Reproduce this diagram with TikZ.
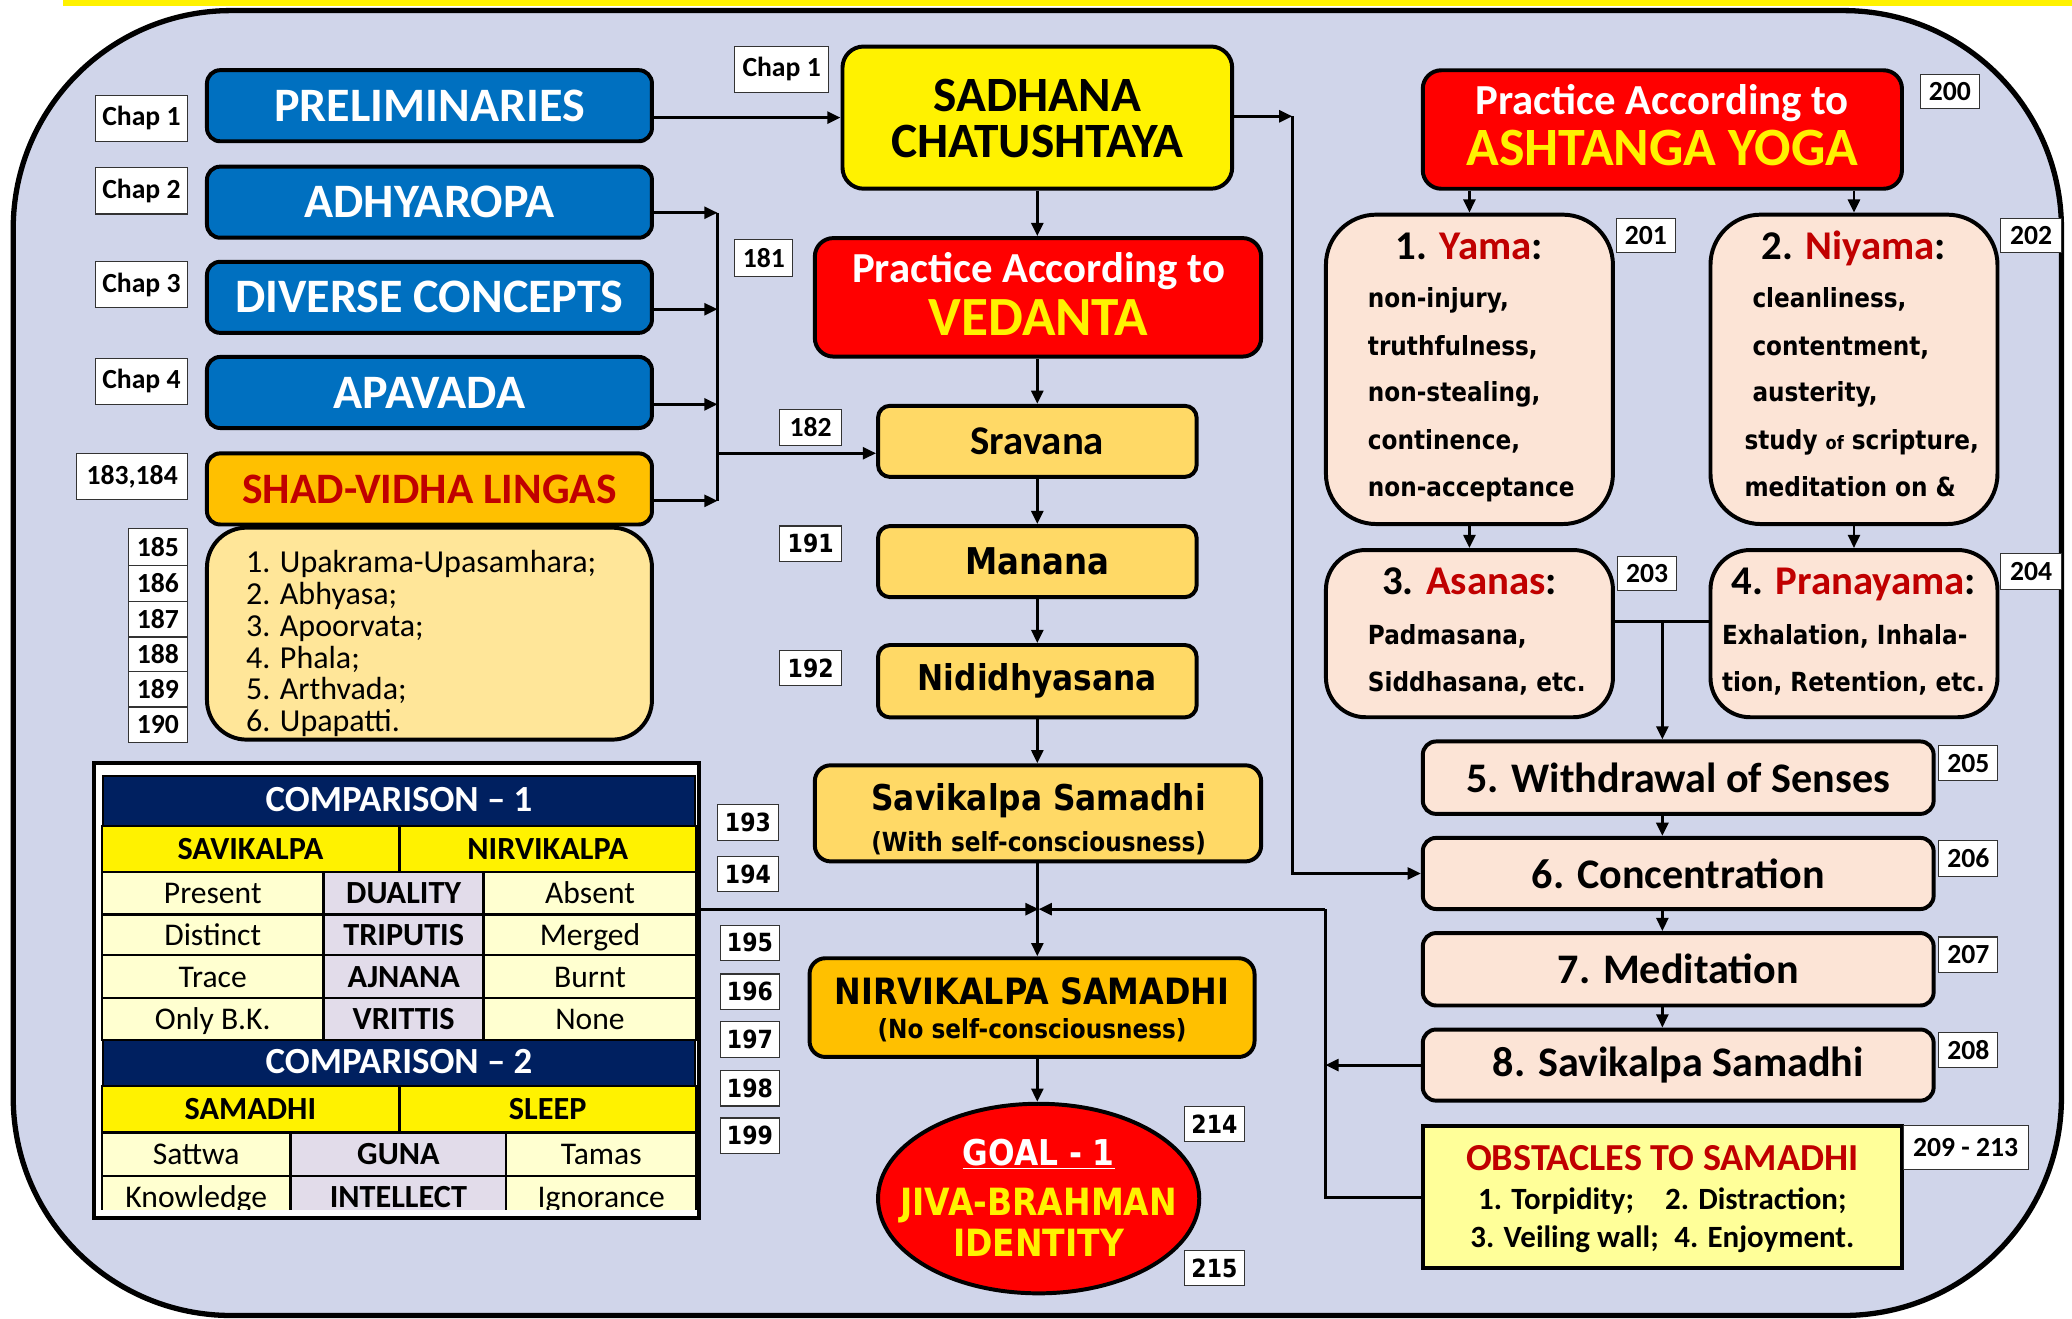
\documentclass[tikz,border=0pt]{standalone}
\usepackage{fontspec}
\setmainfont{Carlito}
\newfontfamily\verd{DejaVu Sans}
\newfontfamily\tah[FakeStretch=0.88]{DejaVu Sans}
\usetikzlibrary{arrows.meta,shapes.geometric,calc}
\definecolor{bg}{RGB}{208,213,234}
\definecolor{blu}{RGB}{0,112,192}
\definecolor{org}{RGB}{255,192,0}
\definecolor{dred}{RGB}{192,0,0}
\definecolor{lorg}{RGB}{255,217,102}
\definecolor{lyel}{RGB}{255,230,153}
\definecolor{peach}{RGB}{252,228,214}
\definecolor{obsy}{RGB}{255,255,153}
\definecolor{navy}{RGB}{0,32,96}
\definecolor{cellY}{RGB}{255,255,208}
\definecolor{cellM}{RGB}{226,220,234}
\newcommand\fs[1]{\fontsize{#1}{#1}\selectfont}
\tikzset{
 box/.style={draw=black, line width=3bp, inner sep=0pt, align=center},
 lab/.style={draw=black!80, line width=0.8bp, fill=white, inner sep=0pt, font=\bfseries\fs{21}},
 vlab/.style={draw=black!80, line width=0.8bp, fill=white, inner sep=0pt, font=\tah\bfseries\fs{19}},
 arr/.style={line width=2.2bp, -{Triangle[length=10bp,width=9bp]}},
 ln/.style={line width=2.2bp},
 txt/.style={anchor=base, inner sep=0pt},
 lst/.style={anchor=base west, inner sep=0pt, font=\tah\bfseries\fs{20}},
}
\newcommand\bx[7]{\node[#1,minimum width={#5-#3},minimum height={#6-#4}] (#2) at ({(#3+#5)/2},{(#4+#6)/2}) {#7};}
\newcommand\cell[8]{%
 \node[draw=black,line width=1.5bp,fill=#6,inner sep=0pt,minimum width={#4-#2},minimum height={#5-#3}] (#1) at ({(#2+#4)/2},{(#3+#5)/2}) {};
 \node[anchor=base,inner sep=0pt,#7] (#1t) at ({(#2+#4)/2},{(#3+#5)/2+8}) {#8};}
\begin{document}
\begin{tikzpicture}[x=1bp,y=-1bp]
\useasboundingbox (0,0) rectangle (1568,998);
\fill[yellow] (48,0) rectangle (1568,4.5);
\draw[line width=4bp, fill=bg, rounded corners=165bp] (10,8) rectangle (1560,995.5);

% ---------- left column ----------
\tikzset{bluebox/.style={box,fill=blu,rounded corners=10bp,text=white,font=\bfseries\fs{36.5}}}
\bx{lab}{ch1}{72}{72}{142}{107}{Chap 1}
\bx{bluebox}{prelim}{156}{53}{494}{107}{PRELIMINARIES}
\bx{lab}{ch2}{72}{127}{142}{162}{Chap 2}
\bx{bluebox}{adhy}{156}{126}{494}{180}{ADHYAROPA}
\bx{lab}{ch3}{72}{198}{142}{233}{Chap 3}
\bx{bluebox}{diverse}{156}{198}{494}{252}{DIVERSE CONCEPTS}
\bx{lab}{ch4}{72}{271}{142}{306}{Chap 4}
\bx{bluebox}{apav}{156}{270}{494}{324}{APAVADA}
\bx{lab}{c183}{58}{343}{142}{378}{183,184}
\bx{box,fill=org,rounded corners=10bp,text=dred,font=\bfseries\fs{33}}{shad}{156}{343}{494}{397}{SHAD-VIDHA LINGAS}
\bx{lab}{n185}{97}{400}{142}{428}{185}
\bx{lab}{n186}{97}{428}{142}{455}{186}
\bx{lab}{n187}{97}{455}{142}{482}{187}
\bx{lab}{n188}{97}{482}{142}{508}{188}
\bx{lab}{n189}{97}{508}{142}{535}{189}
\bx{lab}{n190}{97}{535}{142}{562}{190}
\bx{box,fill=lyel,rounded corners=30bp}{lingas}{156}{399}{494}{560}{}
\node[anchor=west,align=left,inner sep=0pt,font=\fontsize{24.3}{24.2}\selectfont] (lingT) at (186,487)
 {1. Upakrama-Upasamhara;\\2. Abhyasa;\\3. Apoorvata;\\4. Phala;\\5. Arthvada;\\6. Upapatti.};

% ---------- table ----------
\bx{draw=black,line width=3bp,fill=white,inner sep=0pt}{tbl}{70}{577}{530}{922}{}
\begin{scope}
\clip (76,586) rectangle (528,915);
\tikzset{hd/.style={font=\bfseries\fs{28}},bd/.style={font=\bfseries\fs{24.5}},rg/.style={font=\fs{24}}}
\cell{h1}{77}{587}{527}{625}{navy}{hd,text=white}{COMPARISON – 1}
\cell{ya}{77}{625}{302}{660}{yellow}{bd}{SAVIKALPA}
\cell{yb}{302}{625}{527}{660}{yellow}{bd}{NIRVIKALPA}
\cell{r1a}{77}{660}{245}{692}{cellY}{rg}{Present}
\cell{r1b}{245}{660}{366}{692}{cellM}{bd}{DUALITY}
\cell{r1c}{366}{660}{527}{692}{cellY}{rg}{Absent}
\cell{r2a}{77}{692}{245}{723}{cellY}{rg}{Distinct}
\cell{r2b}{245}{692}{366}{723}{cellM}{bd}{TRIPUTIS}
\cell{r2c}{366}{692}{527}{723}{cellY}{rg}{Merged}
\cell{r3a}{77}{723}{245}{755}{cellY}{rg}{Trace}
\cell{r3b}{245}{723}{366}{755}{cellM}{bd}{AJNANA}
\cell{r3c}{366}{723}{527}{755}{cellY}{rg}{Burnt}
\cell{r4a}{77}{755}{245}{787}{cellY}{rg}{Only B.K.}
\cell{r4b}{245}{755}{366}{787}{cellM}{bd}{VRITTIS}
\cell{r4c}{366}{755}{527}{787}{cellY}{rg}{None}
\cell{h2}{77}{787}{527}{822}{navy}{hd,text=white}{COMPARISON – 2}
\cell{za}{77}{822}{302}{857}{yellow}{bd}{SAMADHI}
\cell{zb}{302}{822}{527}{857}{yellow}{bd}{SLEEP}
\cell{r5a}{77}{857}{220}{890}{cellY}{rg}{Sattwa}
\cell{r5b}{220}{857}{383}{890}{cellM}{bd}{GUNA}
\cell{r5c}{383}{857}{527}{890}{cellY}{rg}{Tamas}
\cell{r6a}{77}{890}{220}{921}{cellY}{rg}{Knowledge}
\cell{r6b}{220}{890}{383}{921}{cellM}{bd}{INTELLECT}
\cell{r6c}{383}{890}{527}{921}{cellY}{rg}{Ignorance}
\end{scope}

% ---------- centre column ----------
\bx{lab}{chS}{556}{35}{627}{70}{Chap 1}
\bx{box,fill=yellow,rounded corners=16bp}{sadhana}{637}{35}{933}{143}{}
\node[txt,font=\bfseries\fs{37.5}] (sadT1) at (785,84) {SADHANA};
\node[txt,font=\bfseries\fs{37.5}] (sadT2) at (785,119) {CHATUSHTAYA};
\bx{lab}{n181}{556}{181}{600}{209}{181}
\bx{box,fill=red,rounded corners=14bp}{vedanta}{616}{180}{955}{270}{}
\node[txt,font=\bfseries\fs{32.5},text=white] (vedT1) at (786,214) {Practice According to};
\node[txt,font=\bfseries\fs{42},text=yellow] (vedT2) at (786,254) {VEDANTA};
\bx{lab}{n182}{590}{310}{637}{337}{182}
\bx{box,fill=lorg,rounded corners=9bp,font=\bfseries\fs{31}}{srav}{664}{307}{906}{361}{Sravana}
\bx{vlab}{n191}{590}{398}{637}{425}{191}
\bx{box,fill=lorg,rounded corners=9bp,font=\tah\bfseries\fs{28}}{manana}{664}{398}{906}{452}{Manana}
\bx{vlab}{n192}{590}{492}{637}{519}{192}
\bx{box,fill=lorg,rounded corners=9bp,font=\tah\bfseries\fs{27}}{nidi}{664}{488}{906}{543}{Nididhyasana}
\bx{box,fill=lorg,rounded corners=12bp}{savik}{616}{579}{955}{652}{}
\node[txt,font=\tah\bfseries\fs{27}] (savT1) at (786,613) {Savikalpa Samadhi};
\node[txt,font=\tah\bfseries\fs{20}] (savT2) at (786,644) {(With self-consciousness)};
\bx{vlab}{n193}{543}{609}{589}{636}{193}
\bx{vlab}{n194}{543}{648}{589}{675}{194}
\bx{vlab}{n195}{545}{700}{590}{727}{195}
\bx{vlab}{n196}{545}{737}{590}{764}{196}
\bx{vlab}{n197}{545}{773}{590}{800}{197}
\bx{vlab}{n198}{545}{810}{590}{837}{198}
\bx{vlab}{n199}{545}{846}{590}{873}{199}
\bx{box,fill=org,rounded corners=12bp}{nirv}{612}{725}{950}{800}{}
\node[txt,font=\tah\bfseries\fs{27.5}] (nirT1) at (781,760) {NIRVIKALPA SAMADHI};
\node[txt,font=\tah\bfseries\fs{20}] (nirT2) at (781,786) {(No self-consciousness)};
\node[ellipse,draw=black,line width=3bp,fill=red,minimum width=244,minimum height=144,inner sep=0pt] (goal) at (786,907) {};
\node[txt,font=\tah\bfseries\fs{27},text=white] (goT1) at (786,882) {\underline{GOAL - 1}};
\node[txt,font=\tah\bfseries\fs{28.5},text=yellow] (goT2) at (786,920) {JIVA-BRAHMAN};
\node[txt,font=\tah\bfseries\fs{28.5},text=yellow] (goT3) at (786,951) {IDENTITY};
\bx{vlab}{n214}{896}{837}{942}{864}{214}
\bx{vlab}{n215}{896}{946}{942}{973}{215}

% ---------- right column ----------
\bx{box,fill=red,rounded corners=14bp}{asht}{1076}{53}{1440}{143}{}
\node[txt,font=\bfseries\fs{32.5},text=white] (asT1) at (1258,87) {Practice According to};
\node[txt,font=\bfseries\fs{41},text=yellow] (asT2) at (1258,125) {ASHTANGA YOGA};
\bx{lab}{n200}{1453}{56}{1498}{82}{200}

\bx{box,fill=peach,rounded corners=38bp}{yama}{1003}{162}{1221}{397}{}
\node[txt,font=\bfseries\fs{31}] (yaH) at (1112,196) {1. {\color{dred}Yama}:};
\node[lst] (ya1) at (1035,233) {non-injury,};
\node[lst] (ya2) at (1035,269) {truthfulness,};
\node[lst] (ya3) at (1035,304) {non-stealing,};
\node[lst] (ya4) at (1035,340) {continence,};
\node[lst] (ya5) at (1035,376) {non-acceptance};
\bx{lab}{n201}{1223}{165}{1268}{191}{201}

\bx{box,fill=peach,rounded corners=38bp}{niy}{1294}{162}{1512}{397}{}
\node[txt,font=\bfseries\fs{31}] (niH) at (1403,196) {2. {\color{dred}Niyama}:};
\node[lst] (ni1) at (1326,233) {cleanliness,};
\node[lst] (ni2) at (1326,269) {contentment,};
\node[lst] (ni3) at (1326,304) {austerity,};
\node[lst] (ni4) at (1320,340) {study {\fs{14}of} scripture,};
\node[lst] (ni5) at (1320,376) {meditation on \&};
\bx{lab}{n202}{1514}{165}{1560}{191}{202}

\bx{box,fill=peach,rounded corners=30bp}{asan}{1003}{416}{1221}{543}{}
\node[txt,font=\bfseries\fs{31}] (anH) at (1112,450) {3. {\color{dred}Asanas}:};
\node[lst] (an1) at (1035,488) {Padmasana,};
\node[lst] (an2) at (1035,523) {Siddhasana, etc.};
\bx{lab}{n203}{1224}{421}{1269}{447}{203}

\bx{box,fill=peach,rounded corners=30bp}{pran}{1294}{416}{1512}{543}{}
\node[txt,font=\bfseries\fs{31}] (prH) at (1403,450) {4. {\color{dred}Pranayama}:};
\node[lst] (pr1) at (1303,488) {Exhalation, Inhala-};
\node[lst] (pr2) at (1303,523) {tion, Retention, etc.};
\bx{lab}{n204}{1514}{419}{1560}{446}{204}

\tikzset{limb/.style={box,fill=peach,rounded corners=10bp,font=\bfseries\fs{32}}}
\bx{limb}{withd}{1076}{561}{1464}{616}{5. Withdrawal of Senses}
\bx{lab}{n205}{1467}{564}{1512}{591}{205}
\bx{limb}{conc}{1076}{634}{1464}{688}{6. Concentration}
\bx{lab}{n206}{1467}{636}{1512}{663}{206}
\bx{limb}{medit}{1076}{706}{1464}{761}{7. Meditation}
\bx{lab}{n207}{1467}{709}{1512}{736}{207}
\bx{limb}{sam8}{1076}{779}{1464}{833}{8. Savikalpa Samadhi}
\bx{lab}{n208}{1467}{781}{1512}{808}{208}

\bx{box,fill=obsy}{obst}{1076}{852}{1440}{960}{}
\node[txt,font=\bfseries\fs{29},text=dred] (obT1) at (1258,886) {OBSTACLES TO SAMADHI};
\node[txt,font=\bfseries\fs{23.5}] (obT2) at (1258,915) {1. Torpidity;\quad 2. Distraction;};
\node[txt,font=\bfseries\fs{23.5}] (obT3) at (1258,944) {3. Veiling wall;\enspace 4. Enjoyment.};
\bx{lab}{n209}{1440}{852}{1535}{885}{209 - 213}

% ---------- connectors ----------
\draw[arr] (prelim.east |- sadhana.west) -- (sadhana.west);
\coordinate (bus1) at (543,161);
\coordinate (bus2) at (543,234);
\coordinate (bus3) at (543,306);
\coordinate (bus4) at (543,379);
\coordinate (bus5) at (543,343);
\draw[arr] (adhy.east |- bus1) -- (bus1);
\draw[arr] (diverse.east |- bus2) -- (bus2);
\draw[arr] (apav.east |- bus3) -- (bus3);
\draw[arr] (shad.east |- bus4) -- (bus4);
\draw[ln] (bus1) -- (bus4);
\draw[arr] (bus5) -- (srav.west |- bus5);

\coordinate (c1) at (978,88);
\draw[arr] (sadhana.east |- c1) -- (c1);
\draw[arr] (c1) -- (c1 |- conc.west) -- (conc.west);

\draw[arr] (sadhana.south) -- (sadhana.south |- vedanta.north);
\draw[arr] (vedanta.south -| sadhana.south) -- (sadhana.south |- srav.north);
\draw[arr] (srav.south -| sadhana.south) -- (sadhana.south |- manana.north);
\draw[arr] (manana.south -| sadhana.south) -- (sadhana.south |- nidi.north);
\draw[arr] (nidi.south -| sadhana.south) -- (sadhana.south |- savik.north);
\draw[arr] (savik.south -| sadhana.south) -- (sadhana.south |- nirv.north);
\draw[arr] (nirv.south -| sadhana.south) -- (sadhana.south |- goal.north);

\coordinate (jn) at (786,688);
\coordinate (jr) at (1003,688);
\draw[arr] (tbl.east |- jn) -- (jn);
\draw[arr] (jr) -- (jn);
\draw[ln] (obst.west) -- (obst.west -| jr) -- (jr);
\draw[arr] (sam8.west) -- (sam8.west -| jr);

\draw[arr] (asht.south -| yama.north) -- (yama.north);
\draw[arr] (asht.south -| niy.north) -- (niy.north);
\draw[arr] (yama.south) -- (asan.north);
\draw[arr] (niy.south) -- (pran.north);
\coordinate (j1) at (1258,470);
\draw[ln] (asan.east |- j1) -- (pran.west |- j1);
\draw[arr] (j1) -- (j1 |- withd.north);
\draw[arr] (j1 |- withd.south) -- (j1 |- conc.north);
\draw[arr] (j1 |- conc.south) -- (j1 |- medit.north);
\draw[arr] (j1 |- medit.south) -- (j1 |- sam8.north);
\end{tikzpicture}
\end{document}
